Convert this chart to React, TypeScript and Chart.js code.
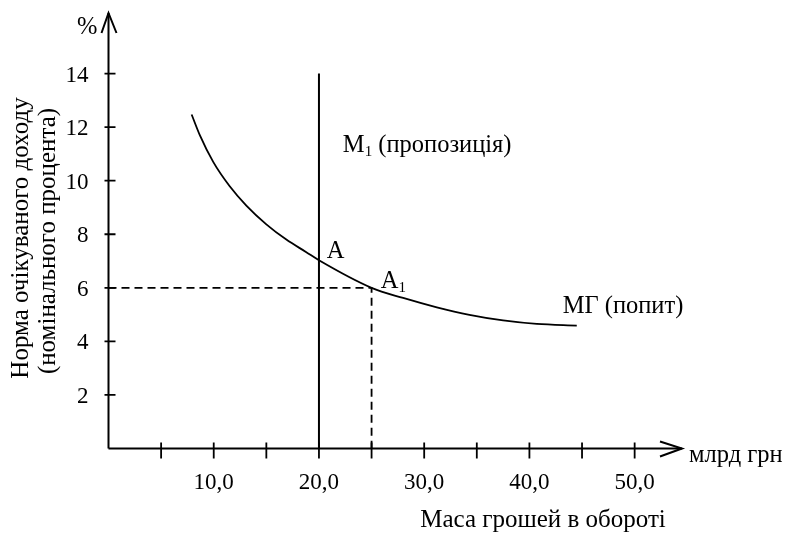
import React, { useEffect, useRef } from "react";
import { Chart, registerables } from "chart.js";

Chart.register(...registerables);

// Demand curve МГ (попит): money mass (bn UAH) vs. interest rate (%)
const demandX = [7.9, 8.7, 9.95, 11.5, 13.1, 15.0, 16.9, 18.8, 20, 25, 28, 31.2, 34.3, 37.5, 40.7, 44.5];
const demandY = [12.47, 11.68, 10.7, 9.8, 9.07, 8.37, 7.8, 7.33, 7.03, 6.0, 5.62, 5.27, 4.99, 4.78, 4.65, 4.59];

// Supply line M1 (пропозиція)
const supplyX = [20, 20];
const supplyY = [0, 14];

// Dashed guide to A1
const guideX = [0, 25, 25];
const guideY = [6, 6, 0];

// Axes
const xTickValues = [5, 10, 15, 20, 25, 30, 35, 40, 45, 50];
const xLabelValues = [10, 20, 30, 40, 50];
const xLabelTexts = ["10,0", "20,0", "30,0", "40,0", "50,0"];
const yTickValues = [2, 4, 6, 8, 10, 12, 14];
const yLabelTexts = ["2", "4", "6", "8", "10", "12", "14"];
const X_MAX = 54.5;
const Y_MAX = 16.26;

const FONT = "'Liberation Serif', 'Times New Roman', serif";

const toPts = (xs: number[], ys: number[]) => xs.map((x, i) => ({ x, y: ys[i] }));

const annotationsPlugin = {
  id: "econAnnotations",
  afterDraw(chart: any) {
    const ctx: CanvasRenderingContext2D = chart.ctx;
    const xs = chart.scales.x;
    const ys = chart.scales.y;
    const px = (v: number) => xs.getPixelForValue(v);
    const py = (v: number) => ys.getPixelForValue(v);
    const ox = px(0);
    const oy = py(0);
    const xEnd = px(X_MAX);
    const yEnd = py(Y_MAX);

    ctx.save();
    ctx.strokeStyle = "#000";
    ctx.fillStyle = "#000";
    ctx.lineWidth = 2;
    ctx.setLineDash([]);

    // axes
    ctx.beginPath();
    ctx.moveTo(ox, oy);
    ctx.lineTo(xEnd, oy);
    ctx.moveTo(ox, oy);
    ctx.lineTo(ox, yEnd);
    ctx.stroke();

    // arrows
    ctx.beginPath();
    ctx.moveTo(ox - 7, yEnd + 20);
    ctx.lineTo(ox, yEnd);
    ctx.lineTo(ox + 8, yEnd + 20);
    ctx.moveTo(xEnd - 22, oy - 7);
    ctx.lineTo(xEnd, oy);
    ctx.lineTo(xEnd - 22, oy + 8);
    ctx.stroke();

    // tick marks
    ctx.lineWidth = 1.8;
    ctx.beginPath();
    xTickValues.forEach((v) => {
      ctx.moveTo(px(v), oy - 6);
      ctx.lineTo(px(v), oy + 10);
    });
    yTickValues.forEach((v) => {
      ctx.moveTo(ox - 4, py(v));
      ctx.lineTo(ox + 7, py(v));
    });
    ctx.stroke();

    // tick labels
    ctx.font = `23px ${FONT}`;
    ctx.textBaseline = "alphabetic";
    ctx.textAlign = "center";
    xLabelValues.forEach((v, i) => ctx.fillText(xLabelTexts[i], px(v), oy + 40));
    ctx.textAlign = "right";
    yTickValues.forEach((v, i) => ctx.fillText(yLabelTexts[i], ox - 20, py(v) + 8));

    const LBL = `24.5px ${FONT}`;
    // labels
    ctx.font = LBL;
    ctx.textAlign = "right";
    ctx.fillText("%", ox - 11, py(15.46));

    ctx.textAlign = "left";
    ctx.fillText("млрд грн", xEnd + 7, oy + 13);

    ctx.font = `25px ${FONT}`;
    ctx.textAlign = "center";
    ctx.fillText("Маса грошей в обороті", 543, oy + 78);

    const subLabel = (main: string, sub: string, rest: string, x: number, y: number) => {
      ctx.textAlign = "left";
      ctx.font = LBL;
      ctx.fillText(main, x, y);
      const w1 = ctx.measureText(main).width;
      ctx.font = `15px ${FONT}`;
      ctx.fillText(sub, x + w1, y + 4);
      const w2 = ctx.measureText(sub).width;
      ctx.font = LBL;
      if (rest) ctx.fillText(rest, x + w1 + w2, y);
    };

    subLabel("M", "1", " (пропозиція)", px(22.27), py(11.08));
    ctx.textAlign = "left";
    ctx.font = LBL;
    ctx.fillText("A", px(20.75), py(7.12));
    subLabel("A", "1", "", px(25.88), py(5.99));
    ctx.textAlign = "left";
    ctx.font = LBL;
    ctx.fillText("МГ (попит)", px(43.16), py(5.07));

    // rotated y title
    ctx.textAlign = "center";
    ctx.font = `25px ${FONT}`;
    ctx.save();
    ctx.translate(28, 238);
    ctx.rotate(-Math.PI / 2);
    ctx.fillText("Норма очікуваного доходу", 0, 0);
    ctx.restore();
    ctx.save();
    ctx.translate(55, 241);
    ctx.rotate(-Math.PI / 2);
    ctx.fillText("(номінального процента)", 0, 0);
    ctx.restore();

    ctx.restore();
  },
};

export default function App() {
  const ref = useRef<HTMLCanvasElement | null>(null);

  useEffect(() => {
    if (!ref.current) return;
    const chart = new Chart(ref.current, {
      type: "scatter",
      data: {
        datasets: [
          {
            label: "МГ (попит)",
            data: toPts(demandX, demandY),
            showLine: true,
            borderColor: "#000",
            borderWidth: 1.8,
            pointRadius: 0,
            cubicInterpolationMode: "monotone",
            clip: false as any,
          },
          {
            label: "M1 (пропозиція)",
            data: toPts(supplyX, supplyY),
            showLine: true,
            borderColor: "#000",
            borderWidth: 2,
            pointRadius: 0,
            clip: false as any,
          },
          {
            label: "guide",
            data: toPts(guideX, guideY),
            showLine: true,
            borderColor: "#000",
            borderWidth: 1.8,
            borderDash: [8, 5],
            pointRadius: 0,
            clip: false as any,
          },
        ],
      },
      options: {
        responsive: false,
        animation: false,
        layout: { padding: { left: 108.5, right: 105, top: 13, bottom: 87.5 } },
        plugins: { legend: { display: false }, tooltip: { enabled: false } },
        scales: {
          x: { type: "linear", min: 0, max: X_MAX, display: false },
          y: { type: "linear", min: 0, max: Y_MAX, display: false },
        },
      },
      plugins: [annotationsPlugin],
    });
    return () => chart.destroy();
  }, []);

  return (
    <div style={{ position: "fixed", left: 0, top: 0, width: 787, height: 536, background: "#fff" }}>
      <canvas ref={ref} width={787} height={536} />
    </div>
  );
}
